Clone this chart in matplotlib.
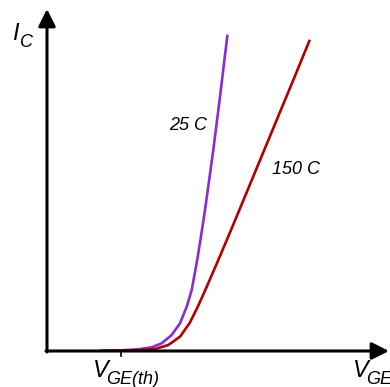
import numpy as np
import matplotlib
matplotlib.use("Agg")
import matplotlib.pyplot as plt

# transfer curves, x = V_GE, y = I_C (arbitrary units, origin at axis corner)
v_25 = [54.7, 74.7, 91.3, 104.7, 114.7, 124.7, 133, 139.7, 144.7, 150.2,
        153.4, 156.5, 159.4, 166.3, 173, 180.3]
i_25 = [0.3, 0.7, 1.7, 3.7, 7.7, 16, 27.7, 44.3, 61, 91,
        111, 131, 151, 201, 254.3, 315]

v_150 = [54.7, 74.7, 94.7, 108, 121.3, 133, 142.5, 150.8, 158.3, 171.3,
         179.8, 188.2, 196.5, 213.8, 230.4, 247, 262.3]
i_150 = [0.3, 0.3, 1, 2, 6, 14.3, 27.7, 44.3, 61, 91,
         111, 131, 151, 192.7, 232.7, 272.7, 310]

v_th = 74
labels = ['25 C', '150 C']
colors = ['#8B2BD6', '#B00000']

fig = plt.figure(figsize=(3.9, 3.87), dpi=100)
ax = fig.add_axes([0, 0, 1, 1])
ax.set_xlim(-47, 343)
ax.set_ylim(-36, 351)
ax.axis('off')

ax.plot(v_25, i_25, color=colors[0], lw=1.9, solid_joinstyle='round')
ax.plot(v_150, i_150, color=colors[1], lw=1.9, solid_joinstyle='round')

arrow = dict(arrowstyle='-|>,head_length=0.4,head_width=0.2', lw=2.2,
             color='black', mutation_scale=26, shrinkA=0, shrinkB=0)
ax.annotate('', xy=(0, 342), xytext=(0, -1), arrowprops=arrow)
ax.annotate('', xy=(342, 0), xytext=(-1, 0), arrowprops=arrow)
ax.plot([v_th, v_th], [0, -5], color='black', lw=1.2)

it = dict(family='Liberation Sans', style='italic', ha='left', va='baseline')
ax.text(-35, 311, 'I', fontsize=17, **it)
ax.text(-27, 304, 'C', fontsize=13, **it)
ax.text(46, -26, 'V', fontsize=17, **it)
ax.text(59, -32.5, 'GE(th)', fontsize=13, **it)
ax.text(306, -26, 'V', fontsize=17, **it)
ax.text(319, -32.5, 'GE', fontsize=13, **it)

ax.text(141.5, 221, labels[0], fontsize=13, family='Liberation Sans',
        style='italic', ha='center', va='baseline')
ax.text(248.5, 177, labels[1], fontsize=13, family='Liberation Sans',
        style='italic', ha='center', va='baseline')

fig.savefig('out.png', dpi=100)
